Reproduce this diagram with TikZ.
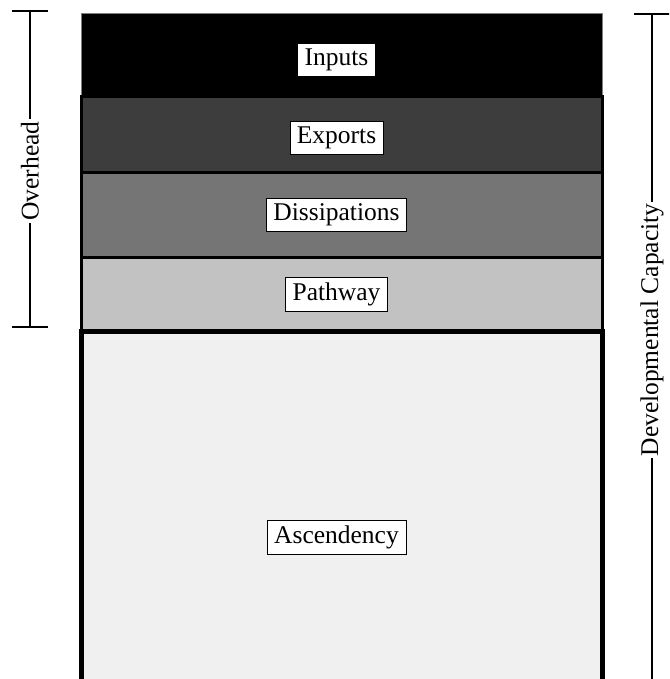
\documentclass[tikz,border=0pt]{standalone}
\usepackage{fontspec}
\setmainfont{Liberation Serif}

\definecolor{shadeA}{gray}{0.0}
\definecolor{shadeB}{gray}{0.24}
\definecolor{shadeC}{gray}{0.46}
\definecolor{shadeD}{gray}{0.76}
\definecolor{shadeE}{gray}{0.94}

\tikzset{
  layer/.style={draw=black,line width=3pt,minimum width=521pt,inner sep=0pt},
  tag/.style={draw=black,fill=white,line width=0.6pt,inner xsep=7pt,inner ysep=5.5pt,
    font=\fontsize{25.5}{30}\selectfont},
  side/.style={fill=white,inner sep=2pt,rotate=90,font=\fontsize{25.5}{30}\selectfont},
  brace/.style={line width=2pt}
}

\begin{document}
\begin{tikzpicture}[x=1pt,y=-1pt]

        \useasboundingbox (0,0) rectangle (669,679);
        \clip (0,0) rectangle (669,679);

        % the stacked layers
        \node[layer,draw=gray,line width=1pt,fill=shadeA,minimum height=83pt] (inputs) at (341.5,55.5) {};
        \node[layer,fill=shadeB,minimum height=75pt] (exports) at (341.5,134.5) {};
        \node[layer,fill=shadeC,minimum height=85pt] (dissip) at (341.5,214.5) {};
        \node[layer,fill=shadeD,minimum height=74pt] (pathway) at (341.5,294) {};
        \node[layer,line width=5pt,fill=shadeE,minimum height=412pt] (ascend) at (341.5,537) {};

        % labels on the layers
        \node[tag] (inputs-t)  at ([xshift=-5pt,yshift=-4pt]inputs)  {Inputs};
        \node[tag] (exports-t) at ([xshift=-5pt,yshift=-3pt]exports) {Exports};
        \node[tag] (dissip-t)  at ([xshift=-5pt]dissip)  {Dissipations};
        \node[tag] (pathway-t) at ([xshift=-5pt]pathway) {Pathway};
        \node[tag] (ascend-t)  at ([xshift=-5pt]ascend)  {Ascendency};

        % left bracket
        \coordinate (oh-top) at (30,11);
        \coordinate (oh-bot) at (30,327);
        \draw[brace] (oh-top) -- (oh-bot);
        \draw[brace] ([xshift=-18pt]oh-top) -- ([xshift=18pt]oh-top);
        \draw[brace] ([xshift=-18pt]oh-bot) -- ([xshift=18pt]oh-bot);
        \node[side] (overhead) at (30,171) {Overhead};

        % right bracket
        \coordinate (dc-top) at (652,14);
        \coordinate (dc-bot) at (652,760);
        \draw[brace] (dc-top) -- (dc-bot);
        \draw[brace] ([xshift=-18pt]dc-top) -- ([xshift=18pt]dc-top);
        \node[side] (capacity) at (652,330) {Developmental Capacity};

\end{tikzpicture}
\end{document}
